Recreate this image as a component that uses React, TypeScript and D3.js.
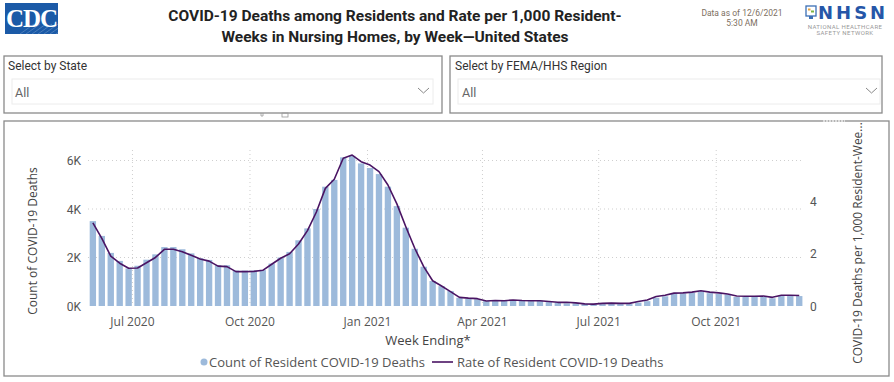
import React from "react";
import * as d3 from "d3";

const countValues = [
  3500, 2890, 2190, 1860, 1550, 1660, 1910, 2130, 2430, 2430, 2340, 2170, 1970, 1900, 1680, 1680, 1460, 1460, 1460, 1480, 1750, 2000, 2230, 2710, 3200, 4000, 4920,
  5200, 6130, 6190, 5880, 5690, 5440, 4920, 4120, 3230, 2360, 1620, 1030, 820, 620, 340, 300, 280, 200, 200, 220, 230, 220, 200, 220, 160, 140,
  110, 110, 80, 70, 80, 100, 80, 80, 140, 200, 340, 400, 510, 520, 550, 600, 530, 500, 480, 370, 370, 380, 400, 320, 410, 410, 410,
];

const rateValues = [
  3.17, 2.58, 1.9, 1.63, 1.44, 1.45, 1.65, 1.85, 2.16, 2.16, 2.07, 1.93, 1.79, 1.71, 1.52, 1.5, 1.31, 1.31, 1.32, 1.36, 1.59, 1.82, 1.99, 2.36, 2.87, 3.58, 4.48,
  4.83, 5.63, 5.75, 5.5, 5.37, 5.12, 4.61, 3.89, 3.02, 2.2, 1.5, 0.96, 0.76, 0.55, 0.33, 0.3, 0.28, 0.19, 0.21, 0.2, 0.23, 0.21, 0.2, 0.2, 0.17, 0.14,
  0.14, 0.12, 0.08, 0.07, 0.1, 0.11, 0.1, 0.1, 0.17, 0.23, 0.36, 0.41, 0.49, 0.5, 0.53, 0.58, 0.53, 0.5, 0.46, 0.38, 0.37, 0.37, 0.38, 0.33, 0.41, 0.41, 0.4,
];

const firstWeekEnding = new Date(Date.UTC(2020, 4, 31));
const lastWeekEnding = new Date(Date.UTC(2021, 11, 5));
const weekEndings = d3.utcWeek.range(firstWeekEnding, d3.utcDay.offset(lastWeekEnding, 1));

const xTickLabels = ["Jul 2020", "Oct 2020", "Jan 2021", "Apr 2021", "Jul 2021", "Oct 2021"];
const xTickDates = [
  new Date(Date.UTC(2020, 6, 1)),
  new Date(Date.UTC(2020, 9, 1)),
  new Date(Date.UTC(2021, 0, 1)),
  new Date(Date.UTC(2021, 3, 1)),
  new Date(Date.UTC(2021, 6, 1)),
  new Date(Date.UTC(2021, 9, 1)),
];
const leftTicks = [0, 2000, 4000, 6000];
const leftTickLabels = ["0K", "2K", "4K", "6K"];
const rightTicks = [0, 2, 4];

const FONT = "'Segoe UI', 'Open Sans', 'Noto Sans', sans-serif";
const DIN = "Roboto, 'Noto Sans', sans-serif";

export default function App() {
  const halfWeekMs = 3.5 * 24 * 3600 * 1000;
  const x = d3
    .scaleUtc()
    .domain([new Date(firstWeekEnding.getTime() - halfWeekMs), new Date(lastWeekEnding.getTime() + halfWeekMs)])
    .range([88.4, 803.7]);
  const yL = d3.scaleLinear().domain([0, 6000]).range([306, 160.5]);
  const yR = d3.scaleLinear().domain([0, 5.543]).range([306, 160.5]);
  const weekPx = x(d3.utcDay.offset(firstWeekEnding, 7)) - x(firstWeekEnding);
  const barW = weekPx * 0.71;

  const line = d3
    .line<number>()
    .x((_, i) => x(weekEndings[i]))
    .y((d) => yR(d));

  const barColor = "#9dbadb";
  const lineColor = "#4a1463";

  return (
    <div style={{ position: "absolute", left: 0, top: 0, width: 894, height: 382, background: "#fff" }}>
      <svg width={894} height={382} style={{ display: "block" }}>
        {/* CDC logo */}
        <rect x={5} y={3} width={53} height={31} fill="#1b5aa7" />
        <g stroke="#ffffff" strokeOpacity={0.35} strokeWidth={0.6}>
          {[0, 1, 2, 3, 4, 5, 6].map((i) => (
            <line key={i} x1={20 + i * 6} y1={34} x2={34 + i * 6} y2={24} />
          ))}
        </g>
        <text x={31.5} y={27} textAnchor="middle" fill="#fff" fontFamily="'Liberation Serif', 'DejaVu Serif', serif" fontWeight="bold" fontSize={25} letterSpacing={-1}>
          CDC
        </text>

        {/* Title */}
        <text x={395} y={21} textAnchor="middle" fontFamily={DIN} fontWeight="bold" fontSize={15.5} fill="#222">
          COVID-19 Deaths among Residents and Rate per 1,000 Resident-
        </text>
        <text x={395} y={42} textAnchor="middle" fontFamily={DIN} fontWeight="bold" fontSize={15.5} fill="#222">
          Weeks in Nursing Homes, by Week—United States
        </text>

        {/* Data as of */}
        <text x={742} y={16} textAnchor="middle" fontFamily={DIN} fontSize={8.5} fill="#7d6f5f">
          Data as of 12/6/2021
        </text>
        <text x={742} y={26} textAnchor="middle" fontFamily={DIN} fontSize={8.5} fill="#7d6f5f">
          5:30 AM
        </text>

        {/* NHSN logo */}
        <rect x={806} y={6} width={10} height={10} fill="#fff" stroke="#3b6fb5" strokeWidth={1.3} />
        <rect x={808} y={8.5} width={2.5} height={2} fill="#e8a33d" />
        <rect x={811} y={10.5} width={3} height={2} fill="#7cb342" />
        <rect x={809} y={16} width={4} height={3} fill="#3b6fb5" />
        <text x={818} y={19} fontFamily="'DejaVu Sans', sans-serif" fontWeight="bold" fontSize={18} fill="#2556a8" letterSpacing={3}>
          NHSN
        </text>
        <text x={845} y={28.5} textAnchor="middle" fontFamily={DIN} fontSize={6} fill="#999" letterSpacing={0.4}>
          NATIONAL HEALTHCARE
        </text>
        <text x={845} y={35} textAnchor="middle" fontFamily={DIN} fontSize={6} fill="#999" letterSpacing={0.4}>
          SAFETY NETWORK
        </text>

        {/* Filter boxes */}
        <rect x={4} y={56} width={438} height={57} fill="#fff" stroke="#8a8a8a" strokeWidth={1.3} />
        <text x={8} y={70} fontFamily={DIN} fontSize={12} fill="#333">
          Select by State
        </text>
        <rect x={12} y={79} width={421} height={25} fill="#fff" stroke="#ececec" strokeWidth={1} />
        <text x={15} y={97} fontFamily={DIN} fontSize={12.5} fill="#666">
          All
        </text>
        <path d="M418,88 L423.5,93 L429,88" fill="none" stroke="#888" strokeWidth={1} />

        <rect x={450} y={56} width={432} height={57} fill="#fff" stroke="#8a8a8a" strokeWidth={1.3} />
        <text x={455} y={70} fontFamily={DIN} fontSize={12} fill="#333">
          Select by FEMA/HHS Region
        </text>
        <rect x={458} y={79} width={422} height={25} fill="#fff" stroke="#ececec" strokeWidth={1} />
        <text x={462} y={97} fontFamily={DIN} fontSize={12.5} fill="#666">
          All
        </text>
        <path d="M866,88 L871.5,93 L877,88" fill="none" stroke="#888" strokeWidth={1} />

        {/* small header icons */}
        <path d="M261,113 L261,116 L263,116 L263,113" fill="none" stroke="#999" strokeWidth={0.8} />
        <rect x={282} y={113} width={6} height={4} fill="none" stroke="#999" strokeWidth={0.8} />

        {/* Chart container */}
        <rect x={4} y={121} width={885} height={255} fill="#fff" stroke="#8a8a8a" strokeWidth={1.3} />
        <line x1={823} y1={121} x2={845} y2={121} stroke="#ddd" strokeWidth={2} strokeDasharray="2,1" />

        {/* Gridlines */}
        <g stroke="#cfcfcf" strokeWidth={1} strokeDasharray="1,3">
          {leftTicks.slice(1).map((t) => (
            <line key={t} x1={88} x2={803} y1={yL(t)} y2={yL(t)} />
          ))}
          {xTickDates.map((d, i) => (
            <line key={i} x1={x(d)} x2={x(d)} y1={150} y2={306} />
          ))}
        </g>

        {/* Bars */}
        <g fill={barColor}>
          {countValues.map((v, i) => (
            <rect key={i} x={x(weekEndings[i]) - barW / 2} y={yL(v)} width={barW} height={yL(0) - yL(v)} />
          ))}
        </g>

        {/* Line */}
        <path d={line(rateValues) || ""} fill="none" stroke={lineColor} strokeWidth={1.6} strokeLinejoin="round" />

        {/* Left axis */}
        {leftTicks.map((t, i) => (
          <text key={t} x={81} y={yL(t) + 4.5} textAnchor="end" fontFamily={DIN} fontSize={12} fill="#555">
            {leftTickLabels[i]}
          </text>
        ))}
        <text transform={`translate(37,241) rotate(-90)`} textAnchor="middle" fontFamily={FONT} fontSize={12} fill="#444">
          Count of COVID-19 Deaths
        </text>

        {/* Right axis */}
        {rightTicks.map((t) => (
          <text key={t} x={810} y={yR(t) + 4.5} fontFamily={DIN} fontSize={12} fill="#555">
            {t}
          </text>
        ))}
        <text transform={`translate(862,243) rotate(-90)`} textAnchor="middle" fontFamily={FONT} fontSize={12} fill="#444">
          COVID-19 Deaths per 1,000 Resident-Wee...
        </text>

        {/* X axis */}
        {xTickDates.map((d, i) => (
          <text key={i} x={x(d)} y={326} textAnchor="middle" fontFamily={FONT} fontSize={12} fill="#555">
            {xTickLabels[i]}
          </text>
        ))}
        <text x={428} y={345} textAnchor="middle" fontFamily={FONT} fontSize={13} fill="#444">
          Week Ending*
        </text>

        {/* Legend */}
        <circle cx={204} cy={362} r={3.5} fill={barColor} />
        <text x={209} y={367} fontFamily={FONT} fontSize={13} fill="#555">
          Count of Resident COVID-19 Deaths
        </text>
        <line x1={432} x2={453} y1={362} y2={362} stroke={lineColor} strokeWidth={1.6} />
        <text x={457} y={367} fontFamily={FONT} fontSize={13} fill="#555">
          Rate of Resident COVID-19 Deaths
        </text>
      </svg>
    </div>
  );
}
